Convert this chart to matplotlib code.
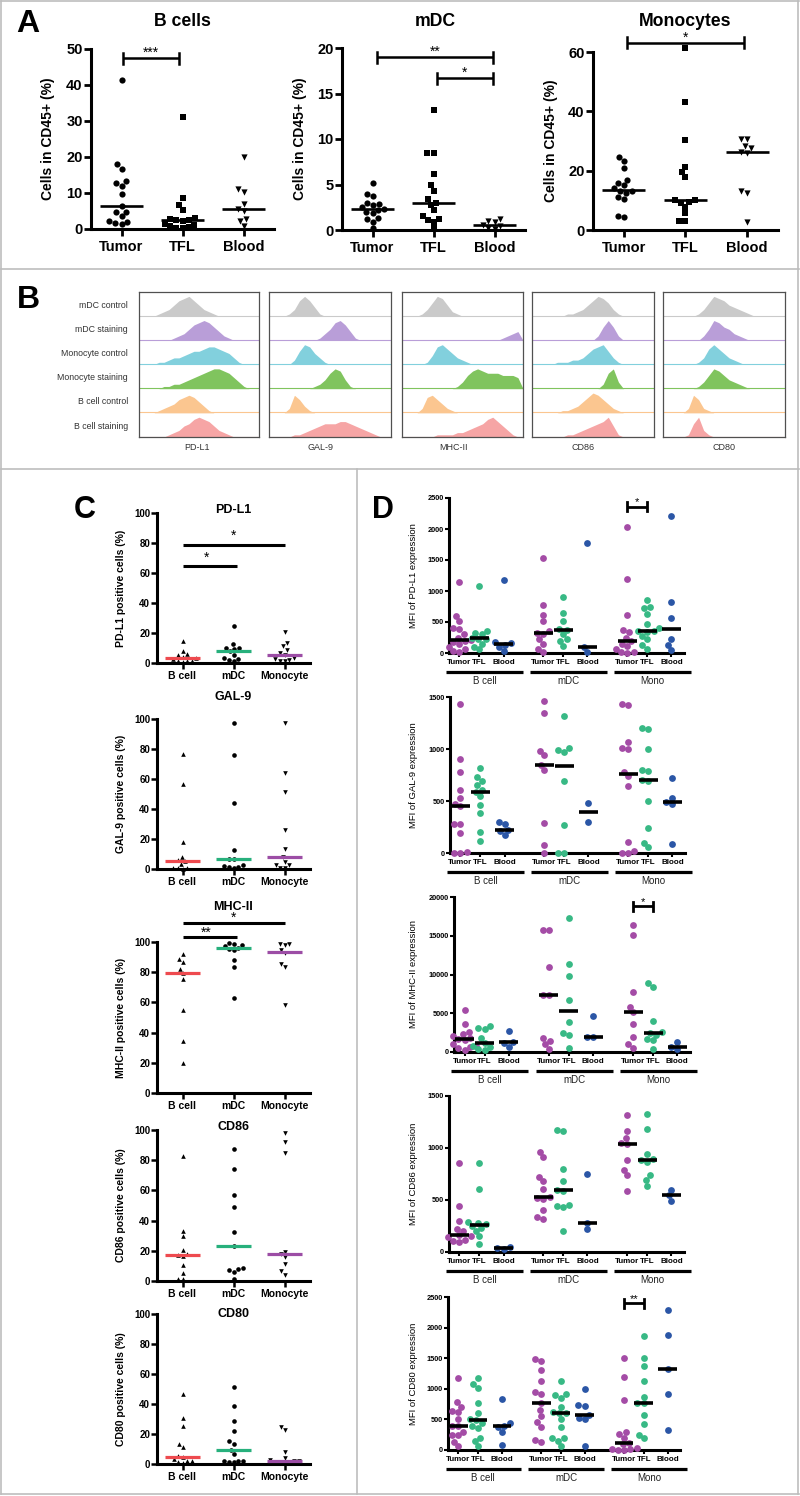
import numpy as np
import matplotlib
matplotlib.use('Agg')
import matplotlib.pyplot as plt
from matplotlib.lines import Line2D
from matplotlib.transforms import offset_copy

plt.rcParams['font.family'] = ['Liberation Sans', 'DejaVu Sans']

# ---------------- data ----------------
A_CATEGORIES = ['Tumor', 'TFL', 'Blood']
A_TITLES = ['B cells', 'mDC', 'Monocytes']
A_BCELLS = [[41.5, 18, 16.8, 13.3, 12.8, 12, 9.8, 6.5, 4.8, 4.6, 3.6, 2.2, 1.5, 1.6, 2.0],
            [31, 8.6, 6.7, 5.2, 3.0, 2.7, 2.5, 2.4, 2.2, 1.5, 1.2, 0.8, 0.5, 0.3, 0.2],
            [20, 11.2, 10.3, 7.0, 5.5, 5.0, 2.8, 2.2, 0.8]]
A_MDC = [[5.2, 4.0, 3.7, 3.0, 2.9, 2.8, 2.5, 2.3, 2.2, 2.0, 1.9, 1.3, 1.2, 0.9, 0.2],
         [13.2, 8.5, 8.5, 6.1, 4.9, 4.3, 3.4, 3.0, 2.8, 2.2, 1.5, 1.2, 1.1, 0.9, 0.2],
         [1.2, 1.0, 0.9, 0.5, 0.4, 0.2, 0.1]]
A_MONO = [[24.5, 23.2, 20.9, 17, 15.8, 15.3, 14, 13.3, 13, 12.5, 11.2, 10.5, 4.7, 4.5],
          [61.5, 43.2, 30.2, 21.3, 19.5, 17.8, 10.2, 10, 9.4, 9.2, 7.8, 5.6, 3.2, 2.9],
          [30.7, 30.7, 28.2, 27.6, 26.4, 26.0, 13.2, 12.5, 2.8]]
A_YMAX = [50, 20, 60]
A_YSTEP = [10, 5, 20]
# significance brackets: (x0, x1, y, label)
A_SIG = [[(0.03, 0.95, 47.5, '***')],
         [(0.07, 1.97, 19.0, '**'), (1.05, 1.97, 16.7, '*')],
         [(0.05, 1.95, 63.1, '*')]]

B_ROWS = ['mDC control', 'mDC staining', 'Monocyte control', 'Monocyte staining',
          'B cell control', 'B cell staining']
B_MARKERS = ['PD-L1', 'GAL-9', 'MHC-II', 'CD86', 'CD80']
B_COLORS = ['#cacaca', '#b99ed8', '#82d0dd', '#80c45e', '#fbc690', '#f6a5a5']
B_HIST_PDL1 = ['0000123578975321000000000', '0000000123578986421000000',
               '0000112334566788765310000', '0000011223456789987531000',
               '0000123467875310000000000', '0000001235689875321000000']
B_HIST_GAL9 = ['0000137974100000000000000', '0000000000135897410000000',
               '0000026985310000000000000', '0000000001247984100000000',
               '0000286310000000000000000', '0000011234566677654321000']
B_HIST_MHCII = ['0000136985210000000000000', '0000000000000000000012340',
                '0000014897532100000000000', '0000000000013689877766650',
                '0000278642100000000000000', '0000000111122345689753100']
B_HIST_CD86 = ['0000000112357986310000000', '0000000000000269620000000',
               '0000011122357896310000000', '0000000000000027930000000',
               '0000001123579864210000000', '0000000112345679510000000']
B_HIST_CD80 = ['0000000136987543210000000', '0000000025986532100000000',
               '0000000137975321000000000', '0000000136986432100000000',
               '0000028621000000000000000', '0000016931000000000000000']

C_CATEGORIES = ['B cell', 'mDC', 'Monocyte']
C_TITLES = ['PD-L1', 'GAL-9', 'MHC-II', 'CD86', 'CD80']
C_PDL1 = [[14.7, 8, 6, 5.5, 4, 3.5, 2.5, 1.5, 1.2, 1, 0.5],
          [24.7, 12.9, 10.2, 9.8, 9.6, 7.8, 5.6, 3, 2.5, 2, 1.5],
          [20.7, 13.3, 11, 8.5, 6.7, 5.5, 3.5, 2.5, 2, 1.5, 1]]
C_GAL9 = [[76.7, 56.7, 18, 8, 6, 5.3, 3.5, 0.8, 0.5, 0.5, 0.3],
          [97.3, 76, 44, 12.7, 6.8, 6.6, 2.5, 2, 1.5, 1.5, 1],
          [97.3, 64, 51.3, 26, 13.3, 7.7, 4.5, 3, 2.5, 1, 0.5]]
C_MHCII = [[92, 89, 87, 82.3, 79.4, 75.6, 55, 34.4, 20],
           [99.5, 98.5, 98, 97.5, 96, 95.5, 95, 88.2, 83.4, 62.7],
           [98.7, 98.5, 97.8, 94.5, 92.5, 85.6, 83.4, 58.1]]
C_CD86 = [[82.7, 33.1, 29.6, 20.3, 18.1, 17, 16.4, 10.4, 5.5, 1.5, 1],
          [87.7, 74.5, 57.2, 49, 32.5, 23.2, 8.6, 7.8, 7, 6, 1],
          [98.1, 92.2, 85, 19.2, 18.1, 15.9, 11, 6.4, 3.8]]
C_CD80 = [[46.6, 30.6, 25.5, 13.3, 11.3, 5.5, 4.4, 3.5, 2.2, 2, 1.5, 1],
          [51.2, 38.4, 28.4, 22.2, 15.1, 13.3, 9.5, 6.7, 2.2, 2, 1.8, 1.5, 1.5],
          [25, 22.4, 7.8, 4, 2.5, 2, 1.8, 1.5, 1, 0.8, 0.5]]
C_MEDIAN_COLORS = ['#ee4a4f', '#27b07c', '#9c4da5']
C_SIG = {0: [(0.0, 2.0, 79, 1.0, 85, '*'), (0.0, 1.06, 65, 0.47, 70, '*')],
         2: [(0.0, 2.0, 112.7, 1.0, 116, '*'), (0.0, 1.06, 103, 0.47, 106, '**')]}

D_SITES = ['Tumor', 'TFL', 'Blood']
D_CELLS = ['B cell', 'mDC', 'Mono']
D_SITE_COLORS = ['#a44ca6', '#38b985', '#2b56a6']
D_PDL1 = {
    'B cell': [[1150, 600, 520, 400, 380, 300, 250, 210, 200, 180, 150, 100, 60, 30, 20],
               [1080, 360, 320, 300, 240, 230, 220, 150, 100, 60],
               [1170, 180, 160, 130, 100, 30]],
    'mDC': [[1530, 780, 620, 510, 360, 330, 300, 220, 150, 60, 20],
            [900, 640, 510, 380, 370, 300, 220, 200, 110],
            [1770, 100, 20]],
    'Mono': [[2040, 1200, 610, 370, 340, 250, 190, 150, 110, 60, 20, 10, 0],
             [860, 750, 720, 630, 460, 400, 350, 350, 340, 280, 220, 130, 65],
             [2210, 820, 560, 230, 130, 50]],
}
D_GAL9 = {
    'B cell': [[1430, 900, 780, 610, 530, 470, 450, 280, 275, 190, 5, 0, 0],
               [820, 730, 690, 650, 610, 590, 550, 460, 380, 200, 120],
               [300, 280, 220, 210, 170]],
    'mDC': [[1460, 1350, 980, 940, 850, 800, 290, 80, 0],
            [1316, 1010, 990, 975, 694, 274, 0, 0],
            [480, 300]],
    'Mono': [[1430, 1420, 1070, 1010, 1000, 780, 740, 640, 110, 20, 0, 0],
             [1200, 1190, 1000, 800, 790, 700, 690, 500, 240, 100, 55],
             [720, 530, 490, 470, 90]],
}
D_MHCII = {
    'B cell': [[5400, 3600, 2600, 2300, 2100, 1800, 1700, 1500, 1000, 800, 700, 500, 300],
               [3300, 3100, 3000, 1800, 1150, 800, 600, 400, 200],
               [2730, 1300, 1200, 700]],
    'mDC': [[15700, 15700, 11000, 7400, 7300, 1800, 1400, 1000, 400],
            [17300, 11300, 9800, 6700, 3900, 2400, 2200, 500],
            [4650, 2000, 1900]],
    'Mono': [[16400, 15100, 7800, 5800, 5100, 3600, 2000, 1000, 500],
             [8900, 8400, 4000, 2600, 2430, 2200, 1700, 1500, 400],
             [1240, 600, 400]],
}
D_CD86 = {
    'B cell': [[860, 440, 300, 220, 200, 160, 150, 140, 120, 110, 100],
               [860, 610, 290, 280, 270, 250, 230, 200, 150, 80],
               [45, 40, 30]],
    'mDC': [[960, 910, 720, 680, 610, 525, 520, 510, 400, 340, 320],
            [1170, 1160, 800, 680, 600, 590, 450, 440, 430, 200],
            [750, 280, 220]],
    'Mono': [[1320, 1165, 1100, 1050, 1040, 880, 790, 740, 590],
             [1330, 1180, 940, 890, 880, 870, 740, 690, 630],
             [600, 545, 490]],
}
D_CD80 = {
    'B cell': [[1180, 790, 710, 640, 620, 500, 400, 390, 300, 250, 240, 130, 60],
               [1180, 1080, 1020, 760, 600, 510, 490, 440, 400, 360, 200, 150, 60],
               [830, 440, 400, 380, 300, 80]],
    'mDC': [[1490, 1460, 1310, 1120, 940, 920, 770, 650, 550, 460, 380, 170, 130],
            [1130, 920, 900, 850, 700, 620, 610, 600, 500, 380, 200, 190, 150, 60],
            [1000, 730, 720, 580, 520, 500, 60]],
    'Mono': [[1510, 1200, 810, 300, 260, 200, 120, 100, 30, 20, 10, 0, 0],
             [1870, 1500, 1380, 1130, 870, 760, 760, 580, 430, 250, 190],
             [2290, 1880, 1330, 920, 320]],
}
D_LABELS = ['PD-L1', 'GAL-9', 'MHC-II', 'CD86', 'CD80']
D_YMAX = [2500, 1500, 20000, 1500, 2500]
D_YSTEP = [500, 500, 5000, 500, 500]
# bracket (marker index: (y, label))
D_SIG = {0: (2355, '*'), 2: (18800, '*'), 4: (2400, '**')}

# ---------------- figure ----------------
W, H = 800, 1496
fig = plt.figure(figsize=(W / 100, H / 100), dpi=100)
fig.patch.set_facecolor('white')


def add_ax(l, t, r, b):
    return fig.add_axes([l / W, 1 - b / H, (r - l) / W, (b - t) / H])


def swarm(vals, ppu_y, ppu_x, d):
    vals = np.asarray(vals, float)
    order = np.argsort(vals, kind='stable')
    placed = []
    xs = np.zeros(len(vals))
    for i in order:
        y = vals[i] * ppu_y
        cands = [0.0]
        for px, py in placed:
            dy = abs(py - y)
            if dy < d:
                dx = np.sqrt(d * d - dy * dy)
                cands += [px + dx, px - dx]
        cands = sorted(cands, key=lambda c: (abs(c), c))
        for c in cands:
            if all((c - px) ** 2 + (y - py) ** 2 >= d * d - 1e-6 for px, py in placed):
                xs[i] = c
                break
        placed.append((xs[i], y))
    return xs / ppu_x


def style(ax, lw=2.0, tlen=4, tw=2.0):
    for s in ['top', 'right']:
        ax.spines[s].set_visible(False)
    for s in ['left', 'bottom']:
        ax.spines[s].set_linewidth(lw)
    ax.tick_params(direction='out', length=tlen, width=tw, colors='black')
    ax.patch.set_alpha(0)


def ftext(x, y, s, **kw):
    fig.text(x / W, 1 - y / H, s, **kw)


# panel frames
frame_c = '#bdbdbd'
for (x0, y0, x1, y1) in [(1, 1, 799, 1), (1, 1494, 799, 1494), (1, 1, 1, 1494), (798, 1, 798, 1494),
                         (1, 269, 799, 269), (1, 469, 799, 469), (357, 469, 357, 1494)]:
    fig.add_artist(Line2D([x0 / W, x1 / W], [1 - y0 / H, 1 - y1 / H], transform=fig.transFigure,
                          color=frame_c, lw=1.2))

# ---------------- Panel A ----------------
ftext(28, 24, 'A', fontsize=23, fontweight='bold', ha='center', va='center')
A_DATA = [A_BCELLS, A_MDC, A_MONO]
A_RECTS = [(91, 49, 274, 229), (342, 48, 525, 230), (593, 52, 778, 230)]
A_TITLE_X = [182, 435, 685]
A_YLAB_X = [55, 307, 558]
A_MARK = ['o', 's', 'v']
for k in range(3):
    l, t, r, b = A_RECTS[k]
    ax = add_ax(l, t, r, b)
    style(ax, lw=2.2, tlen=5, tw=2.0)
    ax.set_xlim(-0.5, 2.5)
    ax.set_ylim(0, A_YMAX[k])
    ppu_y = (b - t) / A_YMAX[k]
    ppu_x = (r - l) / 3.0
    for j, vals in enumerate(A_DATA[k]):
        xo = swarm(vals, ppu_y, ppu_x, 6.2)
        ax.scatter(j + xo, vals, marker=A_MARK[j], s=20, c='black', linewidths=0,
                   clip_on=False, zorder=3)
        med = np.median(vals)
        ax.plot([j - 0.35, j + 0.35], [med, med], color='black', lw=1.9, zorder=4,
                solid_capstyle='butt')
    ax.set_xticks([0, 1, 2])
    ax.set_xticklabels(A_CATEGORIES, fontsize=10.5, fontweight='bold')
    yt = np.arange(0, A_YMAX[k] + 1, A_YSTEP[k])
    ax.set_yticks(yt)
    ax.set_yticklabels([str(v) for v in yt], fontsize=10.5, fontweight='bold')
    ax.tick_params(axis='x', pad=3)
    ax.tick_params(axis='y', pad=1)
    ax.set_ylabel('Cells in CD45+ (%)', fontsize=10, fontweight='bold')
    ax.yaxis.set_label_coords(-(l - A_YLAB_X[k]) / (r - l), 0.5)
    cap = 5.5 / ppu_y
    for (x0, x1, y, lab) in A_SIG[k]:
        ax.plot([x0, x1], [y, y], color='black', lw=1.8, clip_on=False, solid_capstyle='butt')
        for xx in (x0, x1):
            ax.plot([xx, xx], [y - cap, y + cap], color='black', lw=1.8, clip_on=False)
        ax.text((x0 + x1) / 2, y + 1.5 / ppu_y, lab, ha='center', va='baseline', fontsize=10,
                clip_on=False)
    ftext(A_TITLE_X[k], 22, A_TITLES[k], fontsize=12.7, fontweight='bold', ha='center', va='center')

# ---------------- Panel B ----------------
ftext(28, 300, 'B', fontsize=23, fontweight='bold', ha='center', va='center')
B_BOXES = [(139, 259), (269, 391), (402, 523), (532, 654), (663, 785)]
B_LABEL_X = [197, 320, 454, 583, 724]
B_HISTS = [B_HIST_PDL1, B_HIST_GAL9, B_HIST_MHCII, B_HIST_CD86, B_HIST_CD80]
BT, BB = 292, 437
for k in range(5):
    l, r = B_BOXES[k]
    ax = add_ax(l, BT, r, BB)
    ax.set_xlim(0, 1)
    ax.set_ylim(0, 6)
    ax.set_xticks([])
    ax.set_yticks([])
    for s in ax.spines.values():
        s.set_linewidth(0.9)
        s.set_color('#505050')
    for rr in range(6):
        s = B_HISTS[k][rr]
        h = np.array([int(c) for c in s], float) / 9.0
        x = np.linspace(0, 1, len(h))
        xf = np.linspace(0, 1, 300)
        hf = np.interp(xf, x, h)
        base = 5 - rr
        ax.fill_between(xf, base, base + hf * 0.82, color=B_COLORS[rr], lw=0)
        ax.plot([0, 1], [base + 0.02, base + 0.02], color=B_COLORS[rr], lw=0.8)
    ftext(B_LABEL_X[k], 448, B_MARKERS[k], fontsize=6.5, ha='center', va='center', color='#333333')
row_h = (BB - BT) / 6.0
for rr in range(6):
    ftext(128, BT + (rr + 0.55) * row_h, B_ROWS[rr], fontsize=6.3, ha='right', va='center',
          color='#333333')

# ---------------- Panel C ----------------
ftext(85, 510, 'C', fontsize=22, fontweight='bold', ha='center', va='center')
C_DATA = [C_PDL1, C_GAL9, C_MHCII, C_CD86, C_CD80]
C_TOPS = [513, 719, 942, 1130, 1314]
C_BOTS = [663, 869, 1093, 1281, 1464]
C_TITLE_Y = [510, 697, 907, 1127, 1314]
C_MARK = ['^', 'o', 'v']
for k in range(5):
    l, r = 157, 310
    t, b = C_TOPS[k], C_BOTS[k]
    ax = add_ax(l, t, r, b)
    style(ax, lw=2.2, tlen=4, tw=1.8)
    ax.set_xlim(-0.5, 2.5)
    ax.set_ylim(0, 100)
    ppu_y = (b - t) / 100.0
    ppu_x = (r - l) / 3.0
    for j, vals in enumerate(C_DATA[k]):
        xo = swarm(vals, ppu_y, ppu_x, 5.0)
        ax.scatter(j + xo, vals, marker=C_MARK[j], s=11, c='black', linewidths=0,
                   clip_on=False, zorder=3)
        med = np.median(vals)
        ax.plot([j - 0.35, j + 0.35], [med, med], color=C_MEDIAN_COLORS[j], lw=2.3, zorder=4,
                solid_capstyle='butt')
    ax.set_xticks([0, 1, 2])
    ax.set_xticklabels(C_CATEGORIES, fontsize=7.5, fontweight='bold')
    ax.set_yticks(np.arange(0, 101, 20))
    ax.set_yticklabels([str(v) for v in range(0, 101, 20)], fontsize=7, fontweight='bold')
    ax.tick_params(axis='x', pad=1.5)
    ax.tick_params(axis='y', pad=1)
    ax.set_ylabel(C_TITLES[k] + ' positive cells (%)', fontsize=7.5, fontweight='bold')
    ax.yaxis.set_label_coords(-(l - 126) / (r - l), 0.5)
    for (x0, x1, y, xs, ys, lab) in C_SIG.get(k, []):
        ax.plot([x0, x1], [y, y], color='black', lw=2.2, clip_on=False, solid_capstyle='butt')
        ax.text(xs, ys, lab, ha='center', va='center', fontsize=10, clip_on=False)
    ftext(233, C_TITLE_Y[k], C_TITLES[k], fontsize=9, fontweight='bold', ha='center', va='center')

# ---------------- Panel D ----------------
ftext(383, 510, 'D', fontsize=22, fontweight='bold', ha='center', va='center')
D_DATA = [D_PDL1, D_GAL9, D_MHCII, D_CD86, D_CD80]
D_RECTS = [(449, 498, 684, 653), (450, 697, 685, 853), (454, 897, 690, 1052),
           (449, 1096, 684, 1252), (448, 1297, 680, 1450)]
G0 = [0.5, 4.5, 8.5]
OFFS = [0.0, 0.95, 2.1]
XMAX = 11.2
for k in range(5):
    l, t, r, b = D_RECTS[k]
    ax = add_ax(l, t, r, b)
    style(ax, lw=2.2, tlen=3, tw=1.5)
    ax.set_xlim(0, XMAX)
    ax.set_ylim(0, D_YMAX[k])
    ppu_y = (b - t) / D_YMAX[k]
    ppu_x = (r - l) / XMAX
    ticks = []
    for g, cell in enumerate(D_CELLS):
        for j in range(3):
            xc = G0[g] + OFFS[j]
            ticks.append(xc)
            vals = D_DATA[k][cell][j]
            xo = swarm(vals, ppu_y, ppu_x, 6.3)
            ax.scatter(xc + xo, vals, marker='o', s=24, c=D_SITE_COLORS[j], linewidths=0,
                       clip_on=False, zorder=3)
            med = np.median(vals)
            ax.plot([xc - 0.45, xc + 0.45], [med, med], color='black', lw=2.6, zorder=4,
                    solid_capstyle='butt')
        tb = offset_copy(ax.get_xaxis_transform(), fig=fig, x=0, y=-19, units='dots')
        ax.plot([G0[g] - 0.62, G0[g] + 3.03], [0, 0], transform=tb, color='black', lw=2.3,
                clip_on=False, solid_capstyle='butt')
        tl = offset_copy(ax.get_xaxis_transform(), fig=fig, x=0, y=-28, units='dots')
        ax.text(G0[g] + 1.2, 0, cell, transform=tl, ha='center', va='center', fontsize=7,
                color='#222222')
    ax.set_xticks(ticks)
    ax.set_xticklabels(D_SITES * 3, fontsize=5.8, fontweight='bold')
    yt = np.arange(0, D_YMAX[k] + 1, D_YSTEP[k])
    ax.set_yticks(yt)
    ax.set_yticklabels([str(v) for v in yt], fontsize=5.3, fontweight='bold')
    ax.tick_params(axis='x', pad=1)
    ax.tick_params(axis='y', pad=1)
    ax.set_ylabel('MFI of ' + D_LABELS[k] + ' expression', fontsize=6.8)
    ax.yaxis.set_label_coords(-(l - 418) / (r - l), 0.5)
    if k in D_SIG:
        y, lab = D_SIG[k]
        x0, x1 = G0[2] + OFFS[0], G0[2] + OFFS[1]
        cap = 4.5 / ppu_y
        ax.plot([x0, x1], [y, y], color='black', lw=2.0, clip_on=False, solid_capstyle='butt')
        for xx in (x0, x1):
            ax.plot([xx, xx], [y - cap, y + cap], color='black', lw=2.0, clip_on=False)
        ax.text((x0 + x1) / 2, y + 1.5 / ppu_y, lab, ha='center', va='baseline', fontsize=8,
                clip_on=False)

fig.savefig('out.png', dpi=100, facecolor='white')
